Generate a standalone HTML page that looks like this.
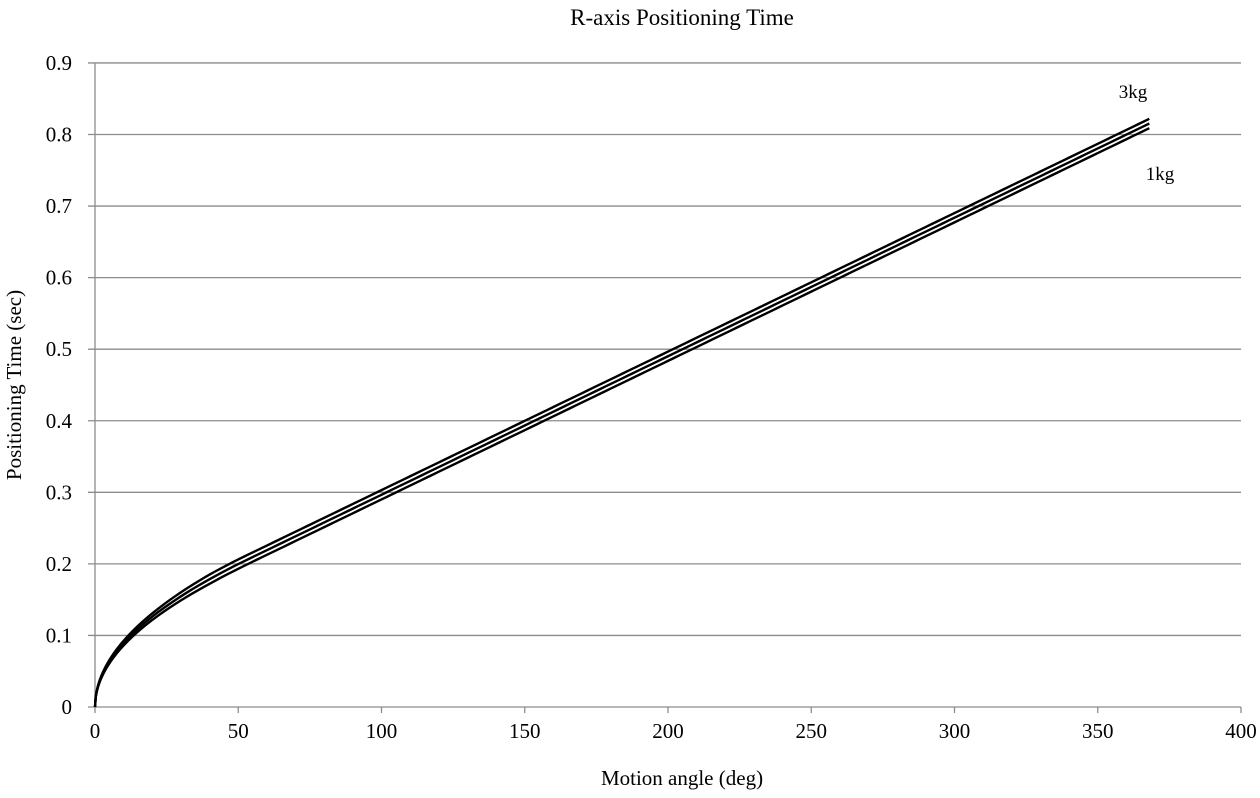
<!DOCTYPE html>
<html><head><meta charset="utf-8"><style>
body{margin:0;background:#fff}
svg text{font-family:"Liberation Serif",serif;fill:#000}
</style></head><body>
<svg id="s" width="1260" height="793" xmlns="http://www.w3.org/2000/svg">
<text x="682" y="25" font-size="23" text-anchor="middle">R-axis Positioning Time</text>
<g id="grid" stroke="#8c8c8c" stroke-width="1.3"></g>
<g id="lab" font-size="21"></g>
<text x="682" y="785" font-size="21" text-anchor="middle">Motion angle (deg)</text>
<text transform="translate(21,385) rotate(-90)" font-size="21" text-anchor="middle">Positioning Time (sec)</text>
<text x="1133" y="98" font-size="19" text-anchor="middle">3kg</text>
<text x="1160" y="180" font-size="19" text-anchor="middle">1kg</text>
<g id="curves" fill="none" stroke="#000" stroke-width="2.4"></g>
</svg>
<script>
var ns="http://www.w3.org/2000/svg";
function el(p,t,a,txt){var e=document.createElementNS(ns,t);for(var k in a)e.setAttribute(k,a[k]);if(txt!=null)e.textContent=txt;document.getElementById(p).appendChild(e);}
function X(x){return 95+x*2.865;}function Y(t){return 707-t*715.6;}
for(var i=0;i<=9;i++){var y=Y(i/10);el("grid","line",{x1:88,x2:1241,y1:y,y2:y});
el("lab","text",{x:72,y:y+7,"text-anchor":"end"},i==0?"0":(i/10).toFixed(1));}
el("grid","line",{x1:95,x2:95,y1:63,y2:707});
for(var j=0;j<=8;j++){var x=X(j*50);el("grid","line",{x1:x,x2:x,y1:707,y2:713});
el("lab","text",{x:x,y:738,"text-anchor":"middle"},String(j*50));}
var xc=53.2,a=0.02824;
function base(x){return x<xc?a*Math.sqrt(x):a*Math.sqrt(xc)/2+a/(2*Math.sqrt(xc))*x;}
[0.0065,0,-0.0065].forEach(function(d){
var pts=[];for(var x=0;x<=368;x+=(x<20?0.25:2))pts.push(x);pts.push(368);
var s="";pts.forEach(function(x){var t=base(x)+d*Math.min(1,Math.sqrt(x/40));
s+=(s?"L":"M")+X(x).toFixed(2)+","+Y(t).toFixed(2);});
el("curves","path",{d:s});});
</script>
</body></html>
